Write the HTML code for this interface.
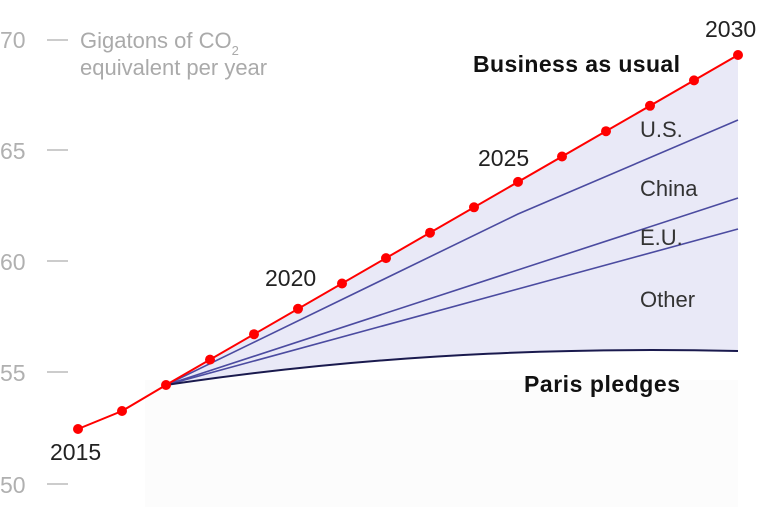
<!DOCTYPE html>
<html><head><meta charset="utf-8"><style>
body{margin:0;background:#fff}
svg{display:block;font-family:"Liberation Sans",sans-serif}
</style></head><body>
<svg width="768" height="507" viewBox="0 0 768 507">
<rect x="145" y="380" width="593" height="127" fill="#fcfcfc"/>
<g fill="#b0b0b0" font-size="23">
<text x="0" y="48">70</text><text x="0" y="159">65</text><text x="0" y="270">60</text><text x="0" y="381">55</text><text x="0" y="493">50</text>
</g>
<g stroke="#bbb" stroke-width="1.5">
<line x1="47" x2="68" y1="40" y2="40"/><line x1="47" x2="68" y1="150" y2="150"/><line x1="47" x2="68" y1="261" y2="261"/><line x1="47" x2="68" y1="372" y2="372"/><line x1="47" x2="68" y1="484" y2="484"/>
</g>
<text x="80" y="48" fill="#aaa" font-size="22">Gigatons of CO<tspan font-size="13" dy="7">2</tspan></text>
<text x="80" y="75" fill="#aaa" font-size="22">equivalent per year</text>
<path d="M166,385 L738,55 L738,351 C600,348 400,350 166,385 Z" fill="#e9e9f7"/>
<g fill="none" stroke="#4b4ba0" stroke-width="1.6">
<polyline points="166,385 518,214 738,120"/>
<line x1="166" y1="385" x2="738" y2="198"/>
<line x1="166" y1="385" x2="738" y2="229"/>
</g>
<path d="M166,385 C400,350 600,348 738,351" fill="none" stroke="#1a1a4e" stroke-width="2"/>
<polyline fill="none" stroke="#f00" stroke-width="2" points="78,429 122,411 166,385 738,55"/>
<g fill="#f00">
<circle cx="78" cy="429" r="5"/><circle cx="122" cy="411" r="5"/><circle cx="166" cy="385" r="5"/>
<circle cx="210" cy="359.6" r="5"/><circle cx="254" cy="334.2" r="5"/><circle cx="298" cy="308.8" r="5"/><circle cx="342" cy="283.5" r="5"/><circle cx="386" cy="258.1" r="5"/><circle cx="430" cy="232.7" r="5"/><circle cx="474" cy="207.3" r="5"/><circle cx="518" cy="181.9" r="5"/><circle cx="562" cy="156.5" r="5"/><circle cx="606" cy="131.2" r="5"/><circle cx="650" cy="105.8" r="5"/><circle cx="694" cy="80.4" r="5"/><circle cx="738" cy="55" r="5"/>
</g>
<g fill="#222" font-size="23">
<text x="50" y="460">2015</text><text x="265" y="286">2020</text><text x="478" y="166">2025</text><text x="705" y="37">2030</text>
</g>
<g fill="#333" font-size="22">
<text x="640" y="137">U.S.</text><text x="640" y="196">China</text><text x="640" y="245">E.U.</text><text x="640" y="307">Other</text>
</g>
<text x="680" y="72" text-anchor="end" font-size="23" font-weight="bold" fill="#111" textLength="207">Business as usual</text>
<text x="680" y="392" text-anchor="end" font-size="23" font-weight="bold" fill="#111" textLength="156">Paris pledges</text>
</svg>
</body></html>
